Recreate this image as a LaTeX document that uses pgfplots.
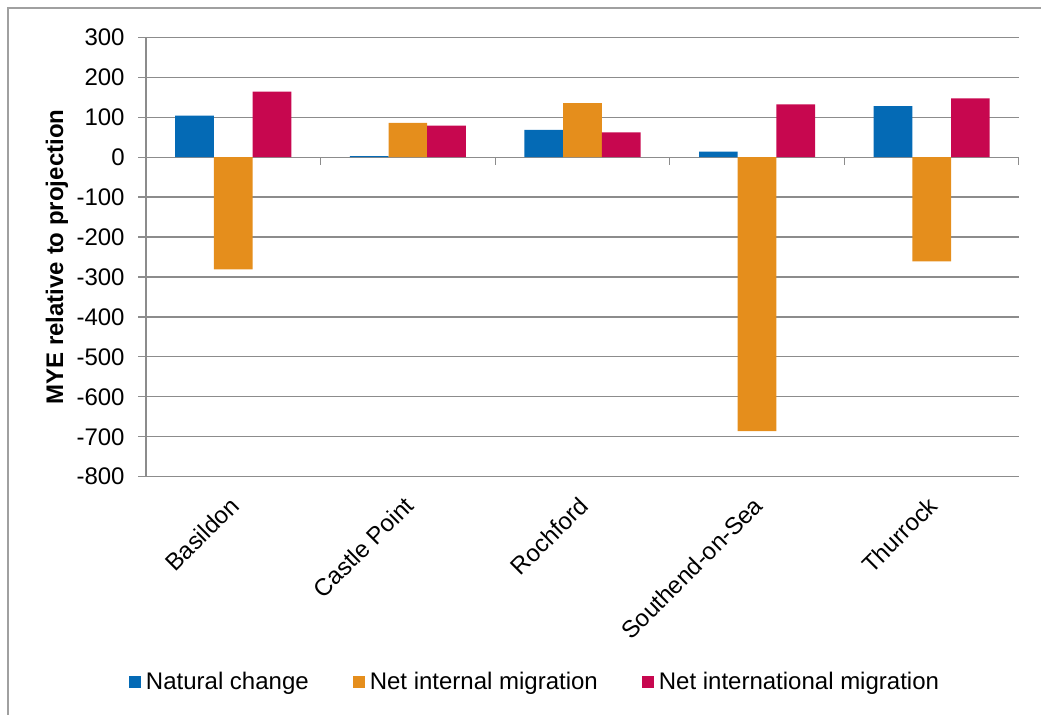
\documentclass[border=0pt]{standalone}
\usepackage{fontspec}
\setmainfont{Liberation Sans}
\usepackage{pgfplots}
\pgfplotsset{compat=1.18}

\definecolor{natblue}{RGB}{4,106,181}
\definecolor{intorange}{RGB}{229,142,28}
\definecolor{intlcrimson}{RGB}{199,7,79}
\definecolor{gridgray}{RGB}{140,140,140}
\definecolor{framegray}{RGB}{160,160,160}

\pgfplotsset{
  sq legend/.style={legend image code/.code={%
      \fill[##1,draw=none] (0pt,-3pt) rectangle (6pt,3pt);}},
}

\newcommand{\chartfont}{\fontsize{12}{14}\selectfont}

\begin{document}
\begin{tikzpicture}
% outer chart frame (only the left and top edges fall inside the page)
\draw[framegray, line width=0.6pt] (4pt,-5pt) -- (4pt,353pt) -- (530pt,353pt);

\begin{axis}[
  at={(73pt,118.65pt)}, anchor=south west,
  scale only axis,
  width=436.5pt, height=219.7pt,
  ybar=0pt, bar width=19.35pt,
  xmin=-0.5, xmax=4.5,
  ymin=-800, ymax=300,
  axis lines*=left,
  x axis line style={draw=none},
  y axis line style={gridgray, line width=0.6pt},
  xtick={0,1,2,3,4},
  xticklabels={Basildon,Castle Point,Rochford,Southend-on-Sea,Thurrock},
  xtick style={draw=none},
  xticklabel style={font=\chartfont, inner sep=0pt, xshift=-2.5pt, yshift=-5pt,
    rotate=45, anchor=north east},
  ytick={-800,-700,-600,-500,-400,-300,-200,-100,0,100,200,300},
  yticklabels={-800,-700,-600,-500,-400,-300,-200,-100,0,100,200,300},
  yticklabel style={font=\chartfont, inner sep=0pt, xshift=-6.5pt},
  tick align=outside,
  major tick length=4pt,
  ytick style={gridgray, line width=0.6pt},
  ymajorgrids,
  grid style={gridgray, line width=0.6pt},
  ylabel={MYE relative to projection},
  ylabel style={font=\chartfont\bfseries, at={(axis description cs:-0.102,0.5)},
    anchor=center, rotate=0},
  legend style={at={(0.4456,-0.467)}, anchor=center, draw=none, fill=none,
    legend columns=3, font=\chartfont,
    /tikz/every odd column/.append style={column sep=1.5pt},
    /tikz/every even column/.append style={column sep=21pt},
    nodes={inner sep=1pt}},
  legend cell align=left,
]
% horizontal zero line with category separator ticks
\draw[gridgray, line width=0.6pt] (axis cs:-0.5,0) -- (axis cs:4.5,0);
\draw[gridgray, line width=0.6pt] (axis cs:0.5,0) -- (axis cs:0.5,-20);
\draw[gridgray, line width=0.6pt] (axis cs:1.5,0) -- (axis cs:1.5,-20);
\draw[gridgray, line width=0.6pt] (axis cs:2.5,0) -- (axis cs:2.5,-20);
\draw[gridgray, line width=0.6pt] (axis cs:3.5,0) -- (axis cs:3.5,-20);
\draw[gridgray, line width=0.6pt] (axis cs:4.5,0) -- (axis cs:4.5,-20);

\addplot[fill=natblue, draw=none, sq legend] coordinates
  {(0,104) (1,2.5) (2,68) (3,14) (4,128)};
\addlegendentry{Natural change}
\addplot[fill=intorange, draw=none, sq legend] coordinates
  {(0,-281) (1,86) (2,135) (3,-686) (4,-261)};
\addlegendentry{Net internal migration}
\addplot[fill=intlcrimson, draw=none, sq legend] coordinates
  {(0,164) (1,79) (2,62) (3,132) (4,147)};
\addlegendentry{Net international migration}
\end{axis}

\pgfresetboundingbox
\path[use as bounding box] (0,0) rectangle (520.5pt,357pt);
\end{tikzpicture}
\end{document}
